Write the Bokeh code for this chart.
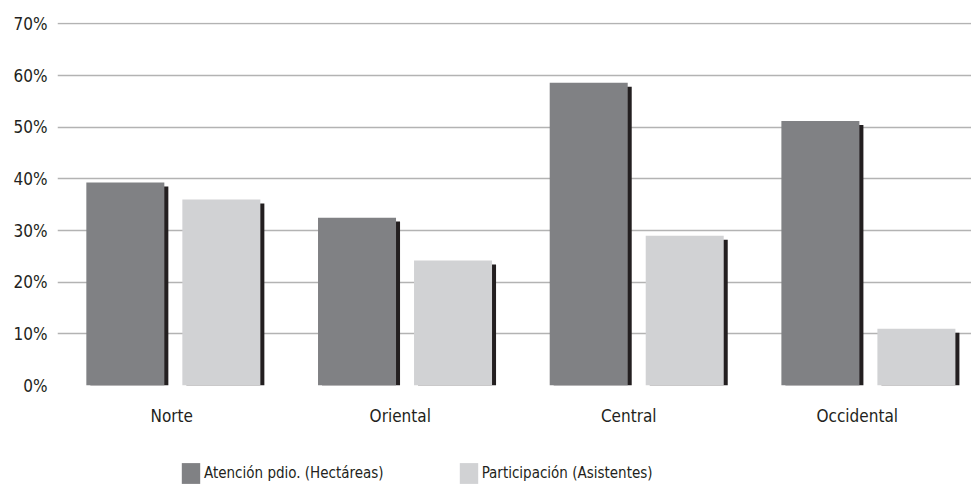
from bokeh.plotting import figure
from bokeh.layouts import column
from bokeh.models import (ColumnDataSource, Range1d, FixedTicker,
                          NumeralTickFormatter, Legend, LegendItem)
from bokeh.embed import file_html
from bokeh.resources import INLINE

# Data
regions = ["Norte", "Oriental", "Central", "Occidental"]
atencion = [0.393, 0.325, 0.586, 0.512]        # Atención pdio. (Hectáreas)
participacion = [0.360, 0.242, 0.290, 0.110]   # Participación (Asistentes)
y_ticks = [0.0, 0.1, 0.2, 0.3, 0.4, 0.5, 0.6, 0.7]
series_names = ["Atención pdio. (Hectáreas)", "Participación (Asistentes)"]

FONT = "'Liberation Sans Narrow', 'DejaVu Sans Condensed', sans-serif"
TEXT = "#231f20"
DARK = "#808184"
LIGHT = "#d1d2d4"
SHADOW = "#231f20"

# bar geometry in group units
GROUP_SPAN = 3.945
BAR_W = 0.3367
OFFSET = 0.2072
SHADOW_DX = 0.0173
SHADOW_DY = 0.0077

n = len(regions)
centers = [i + 0.5 for i in range(n)]
# category labels sit at equal quarters of the plotting area
label_pos = [(i + 0.5) * GROUP_SPAN / n for i in range(n)]

src = ColumnDataSource(dict(
    dark_x=[c - OFFSET for c in centers],
    light_x=[c + OFFSET for c in centers],
    dark_sx=[c - OFFSET + SHADOW_DX for c in centers],
    light_sx=[c + OFFSET + SHADOW_DX for c in centers],
    dark_top=atencion,
    light_top=participacion,
    dark_stop=[v - SHADOW_DY for v in atencion],
    light_stop=[v - SHADOW_DY for v in participacion],
))

p = figure(width=971, height=452, output_backend="svg", toolbar_location=None,
           x_range=Range1d(0, GROUP_SPAN), y_range=Range1d(0, 0.7028),
           min_border_top=22, min_border_left=57, min_border_right=0,
           min_border_bottom=67)
p.outline_line_color = None
p.background_fill_color = "white"
p.border_fill_color = "white"

# drop shadows behind each bar
p.vbar(x="dark_sx", top="dark_stop", width=BAR_W, source=src,
       fill_color=SHADOW, line_color=None)
p.vbar(x="light_sx", top="light_stop", width=BAR_W, source=src,
       fill_color=SHADOW, line_color=None)
p.vbar(x="dark_x", top="dark_top", width=BAR_W, source=src,
       fill_color=DARK, line_color=None)
p.vbar(x="light_x", top="light_top", width=BAR_W, source=src,
       fill_color=LIGHT, line_color=None)

# axes
p.xgrid.grid_line_color = None
p.ygrid.grid_line_color = "#b3b3b3"
p.ygrid.grid_line_width = 1.5
p.yaxis.ticker = FixedTicker(ticks=y_ticks)
p.yaxis.formatter = NumeralTickFormatter(format="0%")
p.xaxis.ticker = FixedTicker(ticks=label_pos)
p.xaxis.major_label_overrides = {pos: name for pos, name in zip(label_pos, regions)}
for ax in (p.xaxis[0], p.yaxis[0]):
    ax.axis_line_color = None
    ax.major_tick_line_color = None
    ax.minor_tick_line_color = None
    ax.major_tick_out = 0
    ax.major_tick_in = 0
    ax.major_label_text_font = FONT
    ax.major_label_text_font_size = "17px"
    ax.major_label_text_color = TEXT
p.yaxis.major_label_standoff = 10
p.xaxis.major_label_standoff = 20

# legend strip underneath the chart; key renderers sit outside its visible range
leg = figure(width=971, height=35, output_backend="svg", toolbar_location=None,
             x_axis_location=None, y_axis_location=None,
             x_range=Range1d(0, 1), y_range=Range1d(0, 1),
             min_border=0)
leg.outline_line_color = None
leg.xgrid.grid_line_color = None
leg.ygrid.grid_line_color = None
key_src = ColumnDataSource(dict(x=[-5], top=[0]))
k1 = leg.vbar(x="x", top="top", width=1, source=key_src, fill_color=DARK, line_color=None)
k2 = leg.vbar(x="x", top="top", width=1, source=key_src, fill_color=LIGHT, line_color=None)

legend = Legend(items=[LegendItem(label=series_names[0], renderers=[k1]),
                       LegendItem(label=series_names[1], renderers=[k2])],
                orientation="horizontal", location=(122, 1),
                glyph_width=23, glyph_height=26, label_standoff=2, spacing=73,
                padding=0, margin=0, border_line_color=None,
                background_fill_alpha=0,
                label_text_font=FONT, label_text_font_size="15px",
                label_text_color=TEXT)
leg.add_layout(legend, "center")

page = column(p, leg, spacing=0)
open("out.html", "w").write(file_html(page, INLINE))
